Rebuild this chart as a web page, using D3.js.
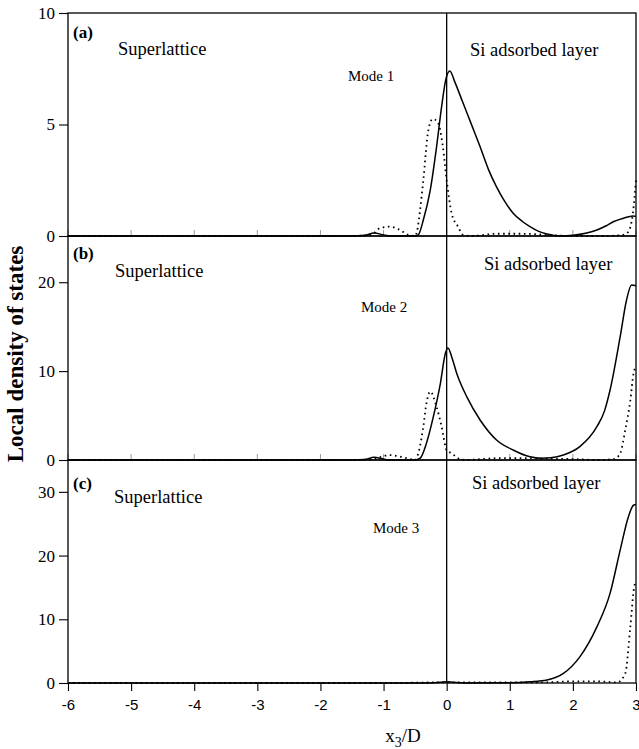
<!DOCTYPE html>
<html><head><meta charset="utf-8">
<script src="https://cdn.jsdelivr.net/npm/d3@7/dist/d3.min.js"></script>
<style>body{margin:0;background:#fff}</style>
</head><body>
<svg id="c" width="639" height="749"></svg>
<script>
// ---- data ----
const xTicks = [-6,-5,-4,-3,-2,-1,0,1,2,3];
const yTicksA = [0,5,10];
const yTicksB = [0,10,20];
const yTicksC = [0,10,20,30];
const panelLabels = ["(a)","(b)","(c)"];
const modeLabels = ["Mode 1","Mode 2","Mode 3"];

const aSolidX = [-6,-2,-1.5,-1.3,-1.15,-1.0,-0.9,-0.5,-0.45,-0.37,-0.26,-0.16,-0.08,-0.015,0.05,0.13,0.26,0.4,0.53,0.66,0.79,0.92,1.05,1.2,1.32,1.45,1.59,1.8,2.0,2.2,2.38,2.52,2.64,2.8,2.95,3];
const aSolidY = [0,0,0,0.03,0.13,0.05,0,0,0.05,0.72,2.06,4.0,5.8,7.0,7.4,6.9,5.96,4.95,4.0,3.0,2.2,1.55,1.03,0.65,0.42,0.22,0.09,0,0.03,0.12,0.27,0.45,0.64,0.8,0.9,0.88];
const aDotX = [-6,-1.5,-1.2,-1.06,-0.9,-0.74,-0.61,-0.5,-0.47,-0.42,-0.37,-0.29,-0.22,-0.14,-0.06,0.0,0.08,0.18,0.26,0.4,0.8,1.2,1.6,2.0,2.5,2.8,2.88,2.95,3];
const aDotY = [0,0,0.05,0.35,0.42,0.27,0.05,0,0.2,1.2,2.5,4.75,5.25,5.1,4.0,2.5,1.0,0.42,0.05,0,0.1,0.1,0.05,0,0,0.05,0.2,1.0,2.5];

const bSolidX = [-6,-2,-1.5,-1.3,-1.15,-1.0,-0.9,-0.5,-0.42,-0.32,-0.21,-0.1,-0.02,0.02,0.08,0.16,0.32,0.53,0.79,1.06,1.32,1.5,1.65,1.85,2.11,2.38,2.5,2.59,2.75,2.85,2.93,3];
const bSolidY = [0,0,0,0.05,0.3,0.1,0,0,0.2,1.9,4.9,8.6,12.0,12.6,11.6,9.74,7.1,4.5,2.25,1.1,0.37,0.2,0.25,0.56,1.5,3.75,5.5,7.9,13.9,18.0,19.7,19.6];
const bDotX = [-6,-1.5,-1.15,-1.0,-0.9,-0.75,-0.6,-0.5,-0.45,-0.37,-0.32,-0.26,-0.16,-0.08,0.0,0.08,0.18,0.3,0.8,1.2,1.6,2.0,2.4,2.65,2.75,2.83,2.91,2.96,3];
const bDotY = [0,0,0.1,0.45,0.55,0.4,0.15,0,0.75,3.75,6.4,7.7,6.0,3.75,1.1,0.75,0.2,0,0.2,0.2,0.15,0.1,0,0.1,0.75,3.4,6.7,9.7,10.5];

const cSolidX = [-6,-2,-1,-0.3,-0.1,0,0.1,0.3,1.0,1.32,1.59,1.85,2.11,2.38,2.59,2.75,2.88,2.96,3];
const cSolidY = [0,0,0,0,0.1,0.2,0.1,0,0.05,0.2,0.47,1.5,4.1,8.8,14.1,20.9,26.1,27.9,28.0];
const cDotX = [-6,-1,0,1.5,2.0,2.4,2.7,2.83,2.91,2.97,3];
const cDotY = [0,0,0.1,0.1,0.25,0.25,0.1,1.5,8.8,15,16];

// ---- layout ----
const svg = d3.select("#c");
svg.append("rect").attr("width",639).attr("height",749).attr("fill","#fff");
const L = 68, R = 636;
const x = d3.scaleLinear().domain([-6,3]).range([L,R]);
const panels = [
  {top:13, bottom:236, max:10, ticks:yTicksA, sx:aSolidX, sy:aSolidY, dx:aDotX, dy:aDotY,
   lab:[73,38], sup:[118,55], mode:[348,81], si:[470,56]},
  {top:236, bottom:460, max:25.2, ticks:yTicksB, sx:bSolidX, sy:bSolidY, dx:bDotX, dy:bDotY,
   lab:[73,259], sup:[115,277], mode:[361,312], si:[484,270]},
  {top:460, bottom:683, max:35, ticks:yTicksC, sx:cSolidX, sy:cSolidY, dx:cDotX, dy:cDotY,
   lab:[73,489], sup:[114,503], mode:[373,533], si:[472,489]}
];
const serif = "'Liberation Serif','Times New Roman',serif";
const sans = "'Liberation Sans',Arial,sans-serif";

panels.forEach((p,i)=>{
  const y = d3.scaleLinear().domain([0,p.max]).range([p.bottom,p.top]);
  const g = svg.append("g");
  if (i<2) {
    g.selectAll(".it").data(xTicks).join("line")
      .attr("x1",d=>x(d)).attr("x2",d=>x(d))
      .attr("y1",p.bottom).attr("y2",p.bottom-6)
      .attr("stroke","#999").attr("stroke-width",1);
  }
  const line = d3.line().x(d=>x(d[0])).y(d=>y(d[1])).curve(d3.curveMonotoneX);
  g.append("path").datum(d3.zip(p.dx,p.dy)).attr("d",line)
    .attr("fill","none").attr("stroke","#000").attr("stroke-width",1.8)
    .attr("stroke-dasharray","1.6,3.6");
  g.append("path").datum(d3.zip(p.sx,p.sy)).attr("d",line)
    .attr("fill","none").attr("stroke","#000").attr("stroke-width",1.5);
  g.append("rect").attr("x",L).attr("y",p.top).attr("width",R-L).attr("height",p.bottom-p.top)
    .attr("fill","none").attr("stroke","#000").attr("stroke-width",1.3);
  const ax = svg.append("g").attr("transform",`translate(${L},0)`)
    .call(d3.axisLeft(y).tickValues(p.ticks).tickSize(9).tickPadding(4).tickFormat(d=>String(d)));
  ax.select(".domain").remove();
  ax.selectAll("line").attr("stroke","#000").attr("stroke-width",1.1);
  ax.selectAll("text").attr("font-family",serif).attr("font-size",17).attr("fill","#000");
  svg.append("text").attr("x",p.lab[0]).attr("y",p.lab[1]).text(panelLabels[i])
    .attr("font-family",serif).attr("font-weight","bold").attr("font-size",17);
  svg.append("text").attr("x",p.sup[0]).attr("y",p.sup[1]).text("Superlattice")
    .attr("font-family",serif).attr("font-size",18.5);
  svg.append("text").attr("x",p.mode[0]).attr("y",p.mode[1]).text(modeLabels[i])
    .attr("font-family",serif).attr("font-size",15);
  svg.append("text").attr("x",p.si[0]).attr("y",p.si[1]).text("Si adsorbed layer")
    .attr("font-family",serif).attr("font-size",18.5);
});

svg.append("line").attr("x1",x(0)).attr("x2",x(0)).attr("y1",13).attr("y2",683)
  .attr("stroke","#000").attr("stroke-width",1.3);

const xa = svg.append("g").attr("transform","translate(0,683)")
  .call(d3.axisBottom(x).tickValues(xTicks).tickSize(8).tickPadding(8).tickFormat(d=>String(d)));
xa.select(".domain").remove();
xa.selectAll("line").attr("stroke","#000").attr("stroke-width",1.1);
xa.selectAll("text").attr("font-family",sans).attr("font-size",15).attr("fill","#000");
xa.selectAll("text").filter(d=>d===3).attr("text-anchor","end").attr("dx",4);

const xl = svg.append("text").attr("x",403).attr("y",742).attr("text-anchor","middle")
  .attr("font-family",serif).attr("font-size",19);
xl.append("tspan").text("x");
xl.append("tspan").attr("dy",5).attr("font-size",14).text("3");
xl.append("tspan").attr("dy",-5).text("/D");

svg.append("text").attr("transform","translate(23,354) rotate(-90)").attr("text-anchor","middle")
  .attr("font-family",serif).attr("font-weight","bold").attr("font-size",23)
  .text("Local density of states");
</script>
</body></html>
